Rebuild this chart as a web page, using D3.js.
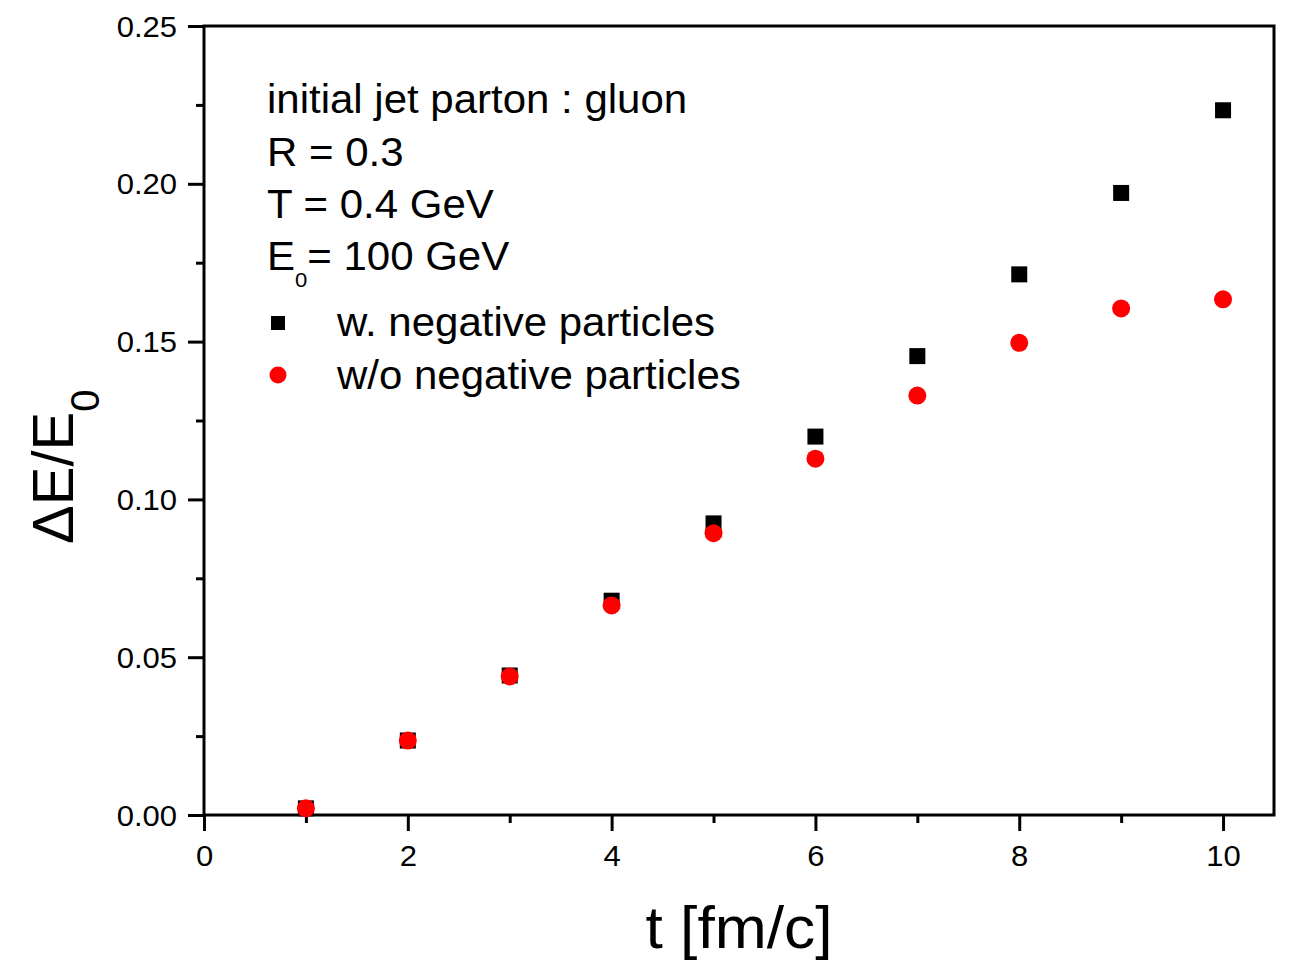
<!DOCTYPE html>
<html>
<head>
<meta charset="utf-8">
<script src="https://cdn.jsdelivr.net/npm/d3@7"></script>
<style>
  html, body { margin: 0; padding: 0; background: #fff; }
  svg { display: block; font-family: "Liberation Sans", Arial, sans-serif; }
</style>
</head>
<body>
<svg id="chart" width="1299" height="964"></svg>
<script>
// Propagation time t [fm/c]
const times = [1, 2, 3, 4, 5, 6, 7, 8, 9, 10];
// Fractional jet energy loss ΔE/E0, including negative particles
const lossWithNeg = [0.0021, 0.0236, 0.0442, 0.0679, 0.0924, 0.1199, 0.1454, 0.1713, 0.1971, 0.2233];
// Fractional jet energy loss ΔE/E0, negative particles removed
const lossWithoutNeg = [0.0021, 0.0236, 0.0439, 0.0664, 0.0893, 0.1129, 0.1329, 0.1496, 0.1605, 0.1634];

const xMajorTicks = [0, 2, 4, 6, 8, 10];
const xMinorTicks = [1, 3, 5, 7, 9];
const yMajorTicks = [0.00, 0.05, 0.10, 0.15, 0.20, 0.25];
const yMinorTicks = [0.025, 0.075, 0.125, 0.175, 0.225];

const infoLines = ["initial jet parton : gluon", "R = 0.3", "T = 0.4 GeV"];
const seriesNames = ["w. negative particles", "w/o negative particles"];

const svg = d3.select("#chart");
const margin = { left: 204, right: 25, top: 26, bottom: 149 };
const W = 1299, H = 964;

const x = d3.scaleLinear().domain([0, 10.5]).range([margin.left, W - margin.right]);
const y = d3.scaleLinear().domain([0, 0.25]).range([H - margin.bottom, margin.top]);

const axisStroke = 3;
const tickFont = 29, tickStretch = 1.07;

// x axis: major ticks with labels, minor ticks without
const gx = svg.append("g").attr("transform", `translate(0,${y(0)})`);
gx.call(d3.axisBottom(x).tickValues(xMajorTicks).tickSize(16).tickSizeOuter(0).tickFormat(d3.format("d")));
gx.append("g").call(d3.axisBottom(x).tickValues(xMinorTicks).tickSize(8).tickSizeOuter(0).tickFormat(""));
gx.selectAll("path.domain").remove();
gx.selectAll("line").attr("stroke", "#000").attr("stroke-width", axisStroke);
gx.selectAll("text")
  .attr("y", 51).attr("dy", 0)
  .attr("transform", `scale(${tickStretch},1)`)
  .attr("fill", "#000")
  .style("font-size", tickFont + "px")
  .style("font-family", "'Liberation Sans', Arial, sans-serif");

// y axis
const gy = svg.append("g").attr("transform", `translate(${x(0)},0)`);
gy.call(d3.axisLeft(y).tickValues(yMajorTicks).tickSize(16).tickSizeOuter(0).tickFormat(d3.format(".2f")));
gy.append("g").call(d3.axisLeft(y).tickValues(yMinorTicks).tickSize(8).tickSizeOuter(0).tickFormat(""));
gy.selectAll("path.domain").remove();
gy.selectAll("line").attr("stroke", "#000").attr("stroke-width", axisStroke);
gy.selectAll("text")
  .attr("x", -27 / tickStretch).attr("dy", "0.35em")
  .attr("transform", `scale(${tickStretch},1)`)
  .attr("fill", "#000")
  .style("font-size", tickFont + "px")
  .style("font-family", "'Liberation Sans', Arial, sans-serif");

// plot frame
svg.append("rect")
  .attr("x", x(0)).attr("y", y(0.25))
  .attr("width", x(10.5) - x(0)).attr("height", y(0) - y(0.25))
  .attr("fill", "none").attr("stroke", "#000").attr("stroke-width", axisStroke);

// helper for horizontally stretched text
function label(px, py, sx, size) {
  return svg.append("text")
    .attr("transform", `translate(${px},${py}) scale(${sx},1)`)
    .attr("fill", "#000")
    .style("font-size", size + "px");
}

// axis titles
label((x(0) + x(10.5)) / 2, 948, 1.04, 60).attr("text-anchor", "middle").text("t [fm/c]");

const yt = svg.append("text")
  .attr("transform", "translate(73,544) rotate(-90)")
  .attr("fill", "#000")
  .style("font-size", "58px");
yt.append("tspan").text("\u0394E/E");
yt.append("tspan").attr("dy", 26).style("font-size", "40px").text("0");

// annotation text
const infoY = [113, 166, 218];
infoLines.forEach((t, i) => label(267, infoY[i], 1.05, 40).text(t));
const e0 = label(267, 270, 1.05, 40);
e0.append("tspan").text("E");
e0.append("tspan").attr("dy", 17).style("font-size", "21px").text("0");
e0.append("tspan").attr("dy", -17).text("= 100 GeV");

// legend
svg.append("rect").attr("x", 278 - 7).attr("y", 323 - 7).attr("width", 14).attr("height", 14).attr("fill", "#000");
svg.append("circle").attr("cx", 278).attr("cy", 375).attr("r", 8.5).attr("fill", "#ff0000");
label(337, 336, 1.05, 40).text(seriesNames[0]);
label(337, 389, 1.05, 40).text(seriesNames[1]);

// data markers
const sq = 16;
svg.append("g").selectAll("rect")
  .data(times.map((t, i) => [t, lossWithNeg[i]]))
  .join("rect")
  .attr("x", d => x(d[0]) - sq / 2)
  .attr("y", d => y(d[1]) - sq / 2)
  .attr("width", sq).attr("height", sq)
  .attr("fill", "#000");

svg.append("g").selectAll("circle")
  .data(times.map((t, i) => [t, lossWithoutNeg[i]]))
  .join("circle")
  .attr("cx", d => x(d[0]))
  .attr("cy", d => y(d[1]))
  .attr("r", 9)
  .attr("fill", "#ff0000");
</script>
</body>
</html>
